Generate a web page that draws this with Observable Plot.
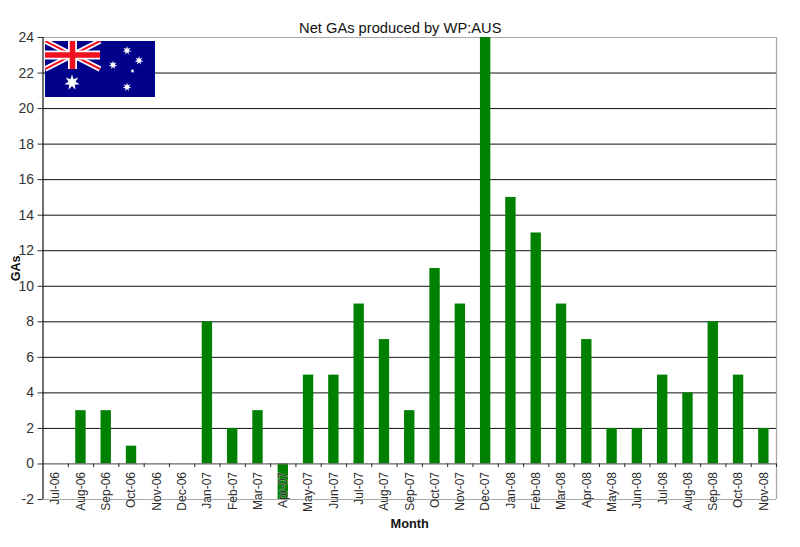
<!DOCTYPE html>
<html>
<head>
<meta charset="utf-8">
<script src="https://cdn.jsdelivr.net/npm/d3@7"></script>
<script src="https://cdn.jsdelivr.net/npm/@observablehq/plot@0.6"></script>
<style>
html,body{margin:0;padding:0;background:#fff}
#wrap{position:relative;width:800px;height:547px;overflow:hidden}
#flag{position:absolute;left:45px;top:41px}
svg{display:block}
</style>
</head>
<body>
<div id="wrap"></div>
<script>
const months = ["Jul-06","Aug-06","Sep-06","Oct-06","Nov-06","Dec-06","Jan-07","Feb-07","Mar-07","Apr-07","May-07","Jun-07","Jul-07","Aug-07","Sep-07","Oct-07","Nov-07","Dec-07","Jan-08","Feb-08","Mar-08","Apr-08","May-08","Jun-08","Jul-08","Aug-08","Sep-08","Oct-08","Nov-08"];
const gas = [0,3,3,1,0,0,8,2,3,-2,5,5,9,7,3,11,9,24,15,13,9,7,2,2,5,4,8,5,2];
const yTicks = [-2,0,2,4,6,8,10,12,14,16,18,20,22,24];
const blackLines = [2,4,6,8,10,12,14,16,18,20,22];
const grayLines = [-2,24];
const titleText = "Net GAs produced by WP:AUS";
const xTitle = "Month";
const yTitle = "GAs";

const font = "'Liberation Sans', Arial, sans-serif";
const rows = months.map((m,i)=>({m,v:gas[i]}));
const bandW = 25.3;

const chart = Plot.plot({
  width:800, height:547,
  marginLeft:42.5, marginRight:24, marginTop:37, marginBottom:48,
  style:{fontFamily:font, fontSize:"12px", background:"#fff", color:"#333"},
  x:{type:"band", domain:months, paddingInner:0.59, paddingOuter:0.295, align:0.5, round:false, axis:null},
  y:{domain:[-2,24], axis:null},
  marks:[
    Plot.ruleY(blackLines,{stroke:"#111",strokeWidth:1}),
    Plot.ruleY(grayLines,{stroke:"#a8a8a8",strokeWidth:1.2}),
    Plot.ruleX([months[months.length-1]],{x:d=>d,y1:-2,y2:24,dx:bandW/2,stroke:"#a8a8a8",strokeWidth:1.3}),
    Plot.barY(rows,{x:"m",y:"v",fill:"#008000"}),
    Plot.ruleY([0],{stroke:"#666",strokeWidth:1.2}),
    Plot.ruleX(months,{x:d=>d,y1:0,y2:-0.2,dx:bandW/2,stroke:"#222"}),
    Plot.axisY({ticks:yTicks,tickSize:5,tickPadding:4,fontSize:14,label:null,tickFormat:d=>String(d),color:"#333"}),
    Plot.ruleX([months[0]],{x:d=>d,dx:-bandW/2,y1:-2,y2:24,stroke:"#111",strokeWidth:1.2}),
    Plot.text(months,{x:d=>d,y:0,text:d=>d,rotate:-90,textAnchor:"end",dy:8,fontSize:12,fill:"#2a2a2a",stroke:"#fff",strokeOpacity:0.45,strokeWidth:1.2}),
    Plot.text([titleText],{frameAnchor:"top",textAnchor:"middle",lineAnchor:"middle",dx:-9.5,dy:-9,fontSize:14.7,fill:"#111"}),
    Plot.text([xTitle],{frameAnchor:"bottom",textAnchor:"middle",lineAnchor:"middle",dx:0,dy:24,fontSize:12.8,fontWeight:"bold",fill:"#111"}),
    Plot.text([yTitle],{frameAnchor:"left",textAnchor:"middle",lineAnchor:"middle",rotate:-90,dx:-27.5,dy:0,fontSize:12.5,fontWeight:"bold",fill:"#111"})
  ]
});
const wrap = document.getElementById("wrap");
wrap.appendChild(chart);

// decorative flag
function star(cx,cy,R,r,n){
  const p=[];
  for(let i=0;i<2*n;i++){
    const a=-Math.PI/2+i*Math.PI/n, q=i%2?r:R;
    p.push((cx+q*Math.cos(a)).toFixed(2)+","+(cy+q*Math.sin(a)).toFixed(2));
  }
  return `<polygon points="${p.join(" ")}" fill="#fff"/>`;
}
const stars=[[82,9.5,4.4,1.9],[68,24,4.4,1.9],[94,19.5,4.4,1.9],[87.5,30,2.2,1],[82,46,4.4,1.9],[27,41.5,8,3.5]];
wrap.insertAdjacentHTML("beforeend",`<svg id="flag" width="110" height="56" viewBox="0 0 110 56">
<rect width="110" height="56" fill="#00008b"/>
<path d="M0 0L55 28M55 0L0 28" stroke="#fff" stroke-width="5.5"/>
<path d="M0 0L55 28M55 0L0 28" stroke="#f01020" stroke-width="2"/>
<path d="M27.5 0V28M0 14H55" stroke="#fff" stroke-width="9"/>
<path d="M27.5 0V28M0 14H55" stroke="#f01020" stroke-width="5.5"/>
${stars.map(s=>star(s[0],s[1],s[2],s[3],7)).join("")}
</svg>`);
</script>
</body>
</html>
